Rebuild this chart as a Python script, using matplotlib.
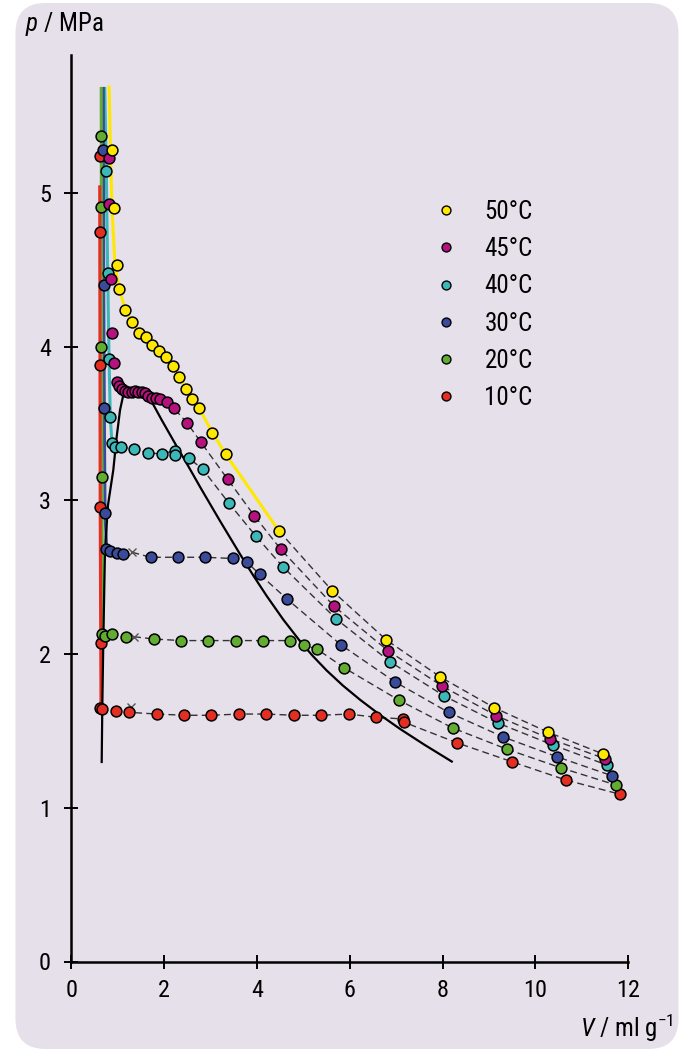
import matplotlib
matplotlib.use("Agg")
import matplotlib.pyplot as plt
from matplotlib import font_manager
from matplotlib.patches import FancyBboxPatch
from matplotlib.lines import Line2D

# ---------------- data ----------------
labels = ["50°C", "45°C", "40°C", "30°C", "20°C", "10°C"]
colors = ["#FFE800", "#B5127F", "#3DB8B8", "#3B4B9B", "#62AD31", "#E52E22"]

t50_v = [0.884, 0.914, 0.985, 1.034, 1.164, 1.308, 1.453, 1.603, 1.746, 1.890, 2.034, 2.185, 2.321,
         2.466, 2.608, 2.759, 3.039, 3.328, 4.470, 5.625, 6.789, 7.953, 9.116, 10.280, 11.459]
t50_p = [5.280, 4.902, 4.530, 4.377, 4.241, 4.161, 4.089, 4.061, 4.009, 3.970, 3.931, 3.873, 3.803,
         3.727, 3.658, 3.599, 3.440, 3.300, 2.803, 2.411, 2.092, 1.851, 1.651, 1.491, 1.350]

t45_v = [0.813, 0.819, 0.856, 0.884, 0.927, 0.991, 1.034, 1.086, 1.157, 1.228, 1.302, 1.373, 1.444,
         1.517, 1.588, 1.659, 1.733, 1.819, 1.912, 2.069, 2.213, 2.500, 2.789, 3.366, 3.944, 4.513,
         5.668, 6.832, 7.996, 9.159, 10.323, 11.502]
t45_p = [5.230, 4.930, 4.442, 4.091, 3.892, 3.772, 3.746, 3.725, 3.712, 3.707, 3.707, 3.710, 3.707,
         3.707, 3.697, 3.679, 3.668, 3.668, 3.660, 3.642, 3.599, 3.502, 3.380, 3.139, 2.900, 2.682,
         2.310, 2.020, 1.791, 1.599, 1.448, 1.319]

t40_v = [0.754, 0.784, 0.813, 0.841, 0.877, 0.942, 1.065, 1.358, 1.647, 1.948, 2.235, 2.235, 2.537,
         2.828, 3.399, 3.976, 4.556, 5.711, 6.875, 8.039, 9.203, 10.375, 11.545]
t40_p = [5.143, 4.481, 3.923, 3.545, 3.376, 3.349, 3.349, 3.332, 3.310, 3.302, 3.324, 3.297, 3.274,
         3.204, 2.981, 2.768, 2.569, 2.228, 1.949, 1.727, 1.550, 1.409, 1.278]

t30_v = [0.690, 0.698, 0.711, 0.726, 0.750, 0.834, 0.978, 1.121, 1.711, 2.293, 2.882, 3.474, 3.776,
         4.056, 4.642, 5.806, 6.970, 8.129, 9.304, 10.474, 11.647]
t30_p = [5.280, 4.400, 3.599, 2.920, 2.682, 2.671, 2.660, 2.651, 2.630, 2.630, 2.630, 2.622, 2.600,
         2.520, 2.360, 2.061, 1.820, 1.621, 1.461, 1.331, 1.209]

t20_v = [0.647, 0.647, 0.647, 0.655, 0.655, 0.726, 0.884, 1.179, 1.782, 2.364, 2.953, 3.543, 4.131,
         4.713, 5.009, 5.302, 5.884, 7.056, 8.220, 9.390, 10.560, 11.739]
t20_p = [5.369, 4.909, 4.000, 3.150, 2.129, 2.120, 2.129, 2.113, 2.098, 2.088, 2.088, 2.088, 2.088,
         2.088, 2.059, 2.031, 1.910, 1.701, 1.519, 1.381, 1.259, 1.148]

t10_v = [0.619, 0.619, 0.625, 0.625, 0.640, 0.619, 0.668, 0.957, 1.250, 1.847, 2.435, 3.017, 3.614,
         4.203, 4.793, 5.381, 5.978, 6.560, 7.149, 7.160, 8.319, 9.491, 10.655, 11.825]
t10_p = [5.239, 4.748, 3.881, 2.959, 2.070, 1.647, 1.641, 1.630, 1.621, 1.610, 1.602, 1.602, 1.610,
         1.610, 1.602, 1.602, 1.610, 1.589, 1.578, 1.558, 1.422, 1.300, 1.181, 1.088]

series_v = [t50_v, t45_v, t40_v, t30_v, t20_v, t10_v]
series_p = [t50_p, t45_p, t40_p, t30_p, t20_p, t10_p]

# volume from which each isotherm is joined by a dashed line
dash_start_v = [4.4, 2.05, 1.0, 1.3, 1.3, 1.25]

# grey crosses (30, 20, 10 °C)
cross_v = [1.315, 1.351, 1.280]
cross_p = [2.662, 2.113, 1.654]

# solid 50 °C curve
yel_line_v = [0.815, 0.845, 0.877, 0.942, 1.034, 1.164, 1.308, 1.453, 1.603, 1.746, 1.890, 2.034,
              2.185, 2.321, 2.466, 2.608, 2.759, 3.039, 3.328, 4.470]
yel_line_p = [5.69, 5.28, 4.90, 4.53, 4.377, 4.241, 4.161, 4.089, 4.061, 4.009, 3.970, 3.931,
              3.873, 3.803, 3.727, 3.658, 3.599, 3.440, 3.300, 2.803]

# liquid branches (steep coloured lines)
liq_teal_v = [0.720, 0.754, 0.784, 0.813, 0.841, 0.877]
liq_teal_p = [5.69, 5.14, 4.48, 3.92, 3.54, 3.37]
liq_blue_v = [0.690, 0.698, 0.711, 0.726, 0.763]
liq_blue_p = [5.69, 4.40, 3.60, 2.92, 2.68]
liq_green_v = [0.645, 0.650, 0.660, 0.677]
liq_green_p = [5.69, 4.00, 3.00, 2.13]
liq_red_v = [0.612, 0.622, 0.640]
liq_red_p = [5.05, 3.00, 1.64]

# two-phase boundary (black curve)
coex_v = [0.655, 0.668, 0.690, 0.726, 0.791, 0.905, 0.978, 1.050, 1.121, 1.222, 1.373, 1.588, 1.733,
          1.948, 2.235, 2.522, 2.795, 3.205, 3.636, 3.922, 4.211, 4.569, 4.929, 5.200, 5.504, 5.850,
          6.222, 6.650, 7.085, 7.600, 8.198]
coex_p = [1.298, 1.656, 2.092, 2.677, 2.970, 3.198, 3.414, 3.588, 3.686, 3.725, 3.725, 3.699, 3.642,
          3.523, 3.371, 3.222, 3.077, 2.866, 2.650, 2.511, 2.378, 2.224, 2.084, 1.989, 1.893, 1.796,
          1.703, 1.605, 1.513, 1.412, 1.301]

x_ticks = [0, 2, 4, 6, 8, 10, 12]
y_ticks = [0, 1, 2, 3, 4, 5]

# ---------------- fonts ----------------
def pick_font(cands):
    for c in cands:
        try:
            font_manager.findfont(font_manager.FontProperties(family=c), fallback_to_default=False)
            return c
        except Exception:
            pass
    return "DejaVu Sans"

FONT = pick_font(["Liberation Sans Narrow", "Roboto Condensed", "Open Sans Condensed", "Liberation Sans"])
plt.rcParams["font.family"] = [FONT, "DejaVu Sans"]
plt.rcParams["mathtext.fontset"] = "custom"
plt.rcParams["mathtext.rm"] = FONT
plt.rcParams["mathtext.it"] = FONT + ":italic"

BG = "#E6E0EB"

fig = plt.figure(figsize=(6.91, 10.5), dpi=100)
fig.patch.set_facecolor("white")
bg = FancyBboxPatch((0.155, 0.01), 6.63, 10.46, boxstyle="round,pad=0,rounding_size=0.3",
                    transform=fig.dpi_scale_trans, facecolor=BG, edgecolor="none", zorder=-5)
fig.add_artist(bg)

ax = fig.add_axes([71.3 / 691, (1050 - 961.5) / 1050, (628.2 - 71.3) / 691, 5.9 * 153.7 / 1050])
ax.set_facecolor("none")
ax.set_xlim(0, 12)
ax.set_ylim(0, 5.9)
for s in ["top", "right"]:
    ax.spines[s].set_visible(False)
for s in ["left", "bottom"]:
    ax.spines[s].set_linewidth(1.8)
    ax.spines[s].set_color("black")
ax.set_xticks(x_ticks)
ax.set_yticks(y_ticks)
ax.tick_params(direction="inout", length=9.5, width=1.4, labelsize=17.5, colors="black")
ax.tick_params(axis="y", pad=10)
ax.tick_params(axis="x", pad=8)

# liquid branches
for v, p, c in [(liq_teal_v, liq_teal_p, colors[2]), (liq_blue_v, liq_blue_p, colors[3]),
                (liq_green_v, liq_green_p, colors[4]), (liq_red_v, liq_red_p, colors[5])]:
    ax.plot(v, p, color=c, lw=2.2, zorder=2, solid_capstyle="butt")

# yellow solid curve
ax.plot(yel_line_v, yel_line_p, color=colors[0], lw=2.2, zorder=2)

# dashed isotherms
cross_map = {3: 0, 4: 1, 5: 2}
for i, (v, p) in enumerate(zip(series_v, series_p)):
    dv = [a for a, b in zip(v, p) if a >= dash_start_v[i]]
    dp = [b for a, b in zip(v, p) if a >= dash_start_v[i]]
    if i in cross_map:
        k = cross_map[i]
        dv = [cross_v[k]] + dv
        dp = [cross_p[k]] + dp
    ax.plot(dv, dp, color="#333333", lw=1.0, dashes=(5, 3), zorder=2.5)

# coexistence curve
ax.plot(coex_v, coex_p, color="black", lw=1.6, zorder=3)

# crosses
ax.plot(cross_v, cross_p, ls="none", marker="x", ms=6, mew=1.0, color="#555555", zorder=3)

# data points (draw 10 °C first so hotter ones lie on top)
for i in range(len(series_v) - 1, -1, -1):
    ax.plot(series_v[i], series_p[i], ls="none", marker="o", ms=7.8, mfc=colors[i], mec="black",
            mew=1.1, zorder=4 + (len(series_v) - i) * 0.01)

handles = [Line2D([], [], ls="none", marker="o", ms=6.4, mfc=c, mec="black", mew=1.0) for c in colors]
ax.legend(handles, labels, loc="upper left", bbox_to_anchor=((446 - 71.3) / 556.9 - 0.023, (961.5 - 200) / 906.8),
          frameon=False, fontsize=18, handlelength=1.0, handletextpad=1.05, labelspacing=0.53,
          borderpad=0, borderaxespad=0)

fig.text(25 / 691, 1 - 31 / 1050, r"$\mathit{p}$ / MPa", fontsize=18, ha="left", va="baseline")
fig.text(673 / 691, 1 - 1037 / 1050, r"$\mathit{V}$ / ml g$^{\mathregular{-1}}$", fontsize=18,
         ha="right", va="baseline")

fig.savefig("out.png", dpi=100, facecolor="white")
